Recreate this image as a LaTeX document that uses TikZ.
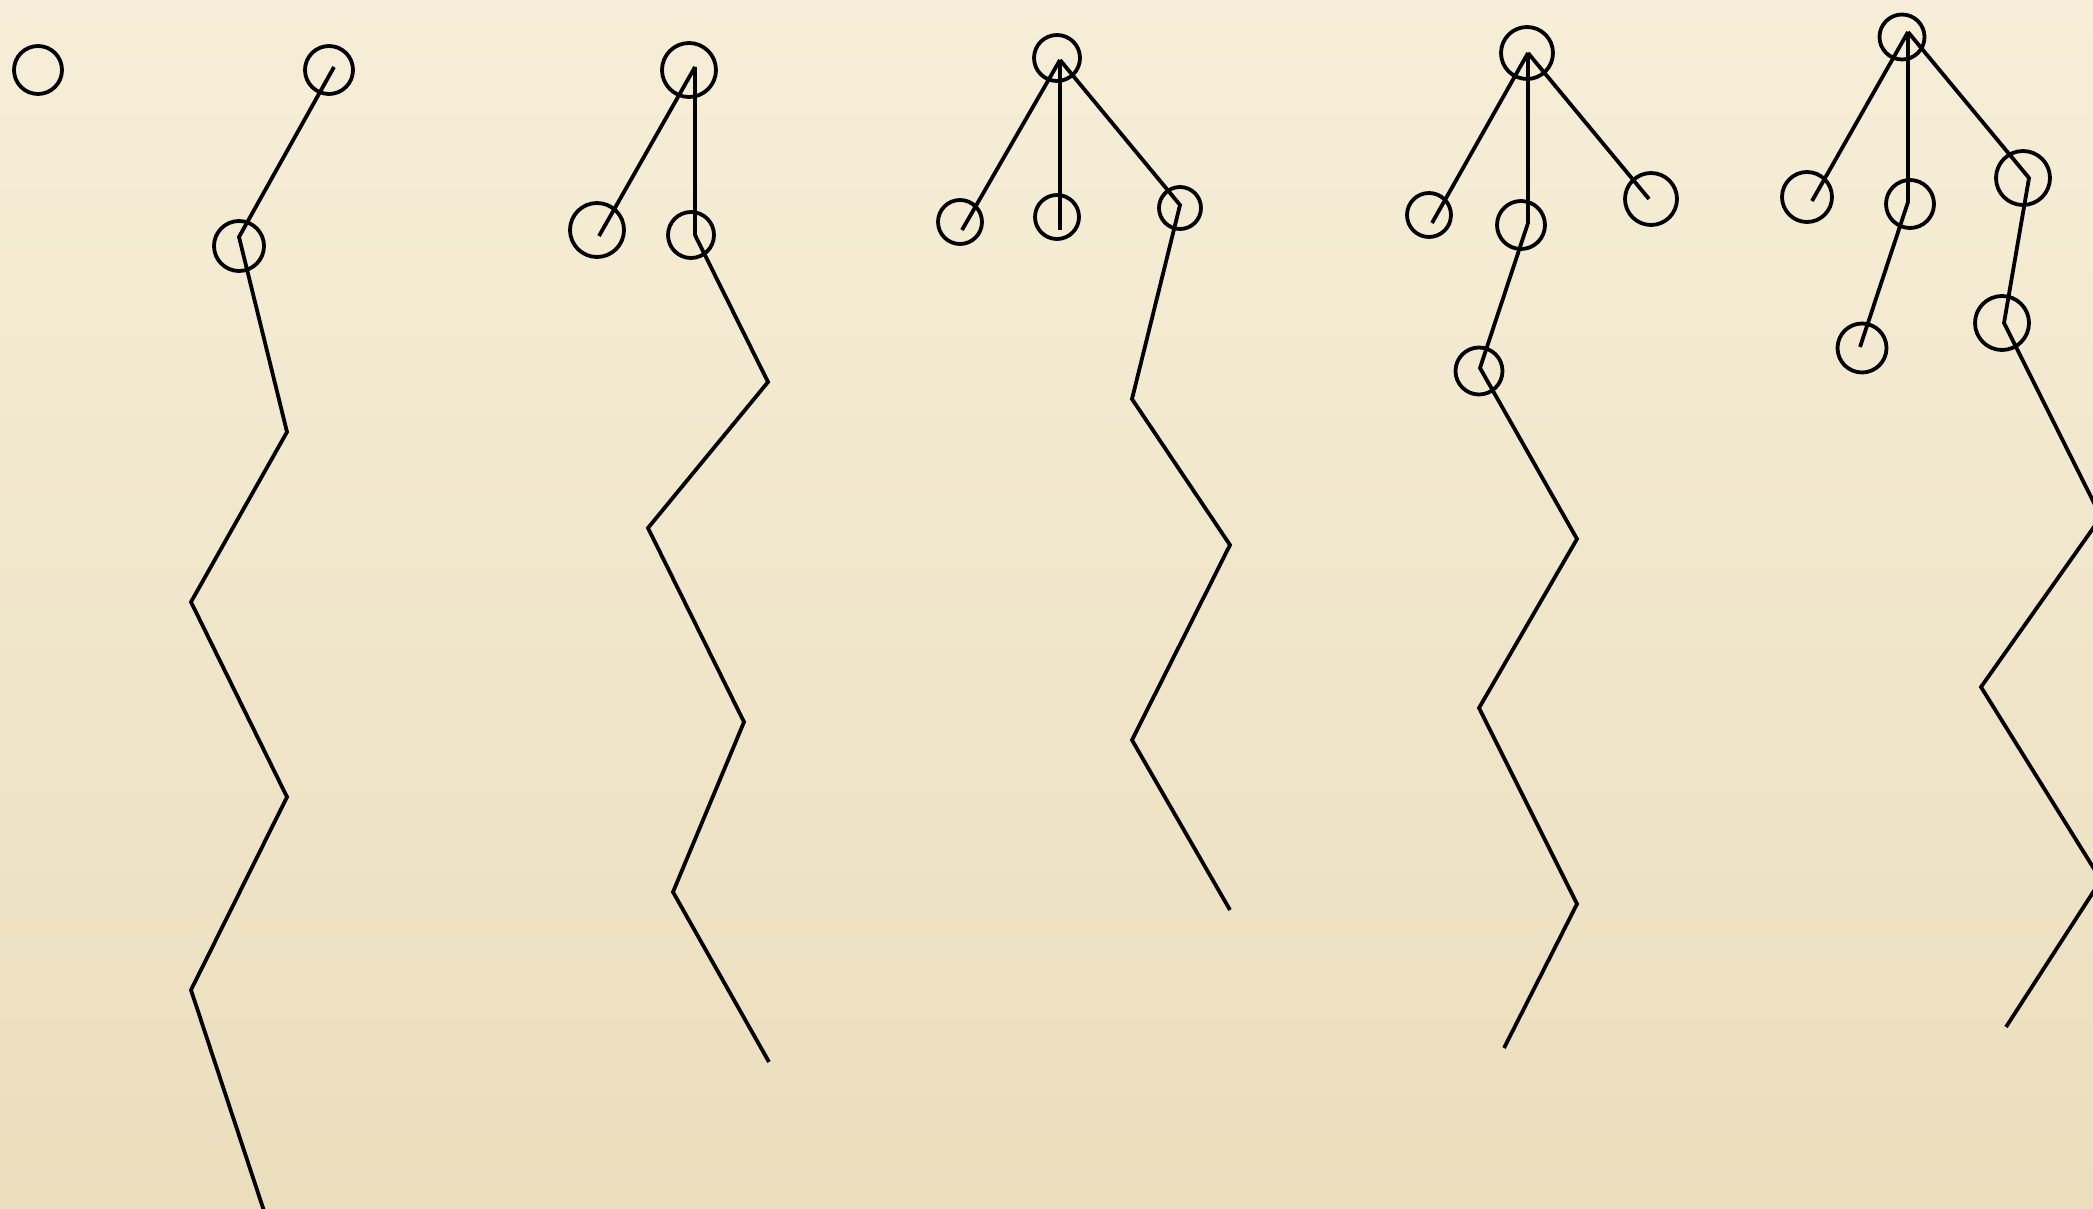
\documentclass[tikz,border=0pt]{standalone}
\usepackage{tikz}
\definecolor{bgtop}{RGB}{246,238,216}
\definecolor{bgbot}{RGB}{235,222,189}
\tikzset{
  ring/.style={circle, draw=black, line width=0.38mm, inner sep=0pt, minimum size=#1*0.2mm},
  stick/.style={draw=black, line width=0.38mm, line join=miter, line cap=butt}
}
\begin{document}
\begin{tikzpicture}[x=0.1mm, y=-0.1mm]
\useasboundingbox (0,0) rectangle (2093,1209);
\shade[top color=bgtop, bottom color=bgbot] (0,0) rectangle (2093,1209);
\clip (0,0) rectangle (2093,1209);

% ---------- tree 0 ----------
\node[ring=24] (c0) at (38,70) {};

% ---------- tree 1 ----------
\node[ring=24] (a1) at (329,70) {};
\node[ring=25] (a2) at (239,246) {};
\coordinate (a1v) at (334,67);
\coordinate (a2v) at (239,237);
\coordinate (a3) at (287,432);
\coordinate (a4) at (191,602);
\coordinate (a5) at (287,797);
\coordinate (a6) at (191,990);
\coordinate (a7) at (267,1220);
\draw[stick] (a1v) -- (a2v) -- (a3) -- (a4) -- (a5) -- (a6) -- (a7);

% ---------- tree 2 ----------
\node[ring=27] (b1) at (689,70) {};
\node[ring=27] (b2) at (597,230) {};
\node[ring=23] (b3) at (691,235) {};
\coordinate (b1v) at (695,67);
\coordinate (b2v) at (599,236);
\coordinate (b3v) at (695,235);
\coordinate (b4) at (768,382);
\coordinate (b5) at (648,528);
\coordinate (b6) at (744,722);
\coordinate (b7) at (673,892);
\coordinate (b8) at (769,1062);
\draw[stick] (b1v) -- (b2v);
\draw[stick] (b1v) -- (b3v) -- (b4) -- (b5) -- (b6) -- (b7) -- (b8);

% ---------- tree 3 ----------
\node[ring=23] (d1) at (1057,58) {};
\node[ring=22] (d2) at (960,222) {};
\node[ring=22] (d3) at (1057,217) {};
\node[ring=21] (d4) at (1180,208) {};
\coordinate (d1v) at (1060,60);
\coordinate (d2v) at (962,230);
\coordinate (d3v) at (1060,230);
\coordinate (d4v) at (1180,205);
\coordinate (d5) at (1132,399);
\coordinate (d6) at (1230,545);
\coordinate (d7) at (1132,740);
\coordinate (d8) at (1230,910);
\draw[stick] (d1v) -- (d2v);
\draw[stick] (d1v) -- (d3v);
\draw[stick] (d1v) -- (d4v) -- (d5) -- (d6) -- (d7) -- (d8);

% ---------- tree 4 ----------
\node[ring=26] (e1) at (1527,53) {};
\node[ring=22] (e2) at (1429,215) {};
\node[ring=24] (e3) at (1521,225) {};
\node[ring=26] (e4) at (1651,199) {};
\node[ring=23.5] (e5) at (1479,371) {};
\coordinate (e1v) at (1528,53);
\coordinate (e2v) at (1432,223);
\coordinate (e3v) at (1528,223);
\coordinate (e4v) at (1649,199);
\coordinate (e5v) at (1480,368);
\coordinate (e6) at (1577,539);
\coordinate (e7) at (1479,708);
\coordinate (e8) at (1577,904);
\coordinate (e9) at (1504,1048);
\draw[stick] (e1v) -- (e2v);
\draw[stick] (e1v) -- (e4v);
\draw[stick] (e1v) -- (e3v) -- (e5v) -- (e6) -- (e7) -- (e8) -- (e9);

% ---------- tree 5 ----------
\node[ring=22.5] (f1) at (1902,37) {};
\node[ring=25] (f2) at (1807,197) {};
\node[ring=24] (f3) at (1910,204) {};
\node[ring=27] (f4) at (2023,178) {};
\node[ring=24.5] (f5) at (1862,348) {};
\node[ring=27] (f6) at (2002,323) {};
\coordinate (f1v) at (1908,32);
\coordinate (f2v) at (1812,201);
\coordinate (f3v) at (1908,202);
\coordinate (f4v) at (2029,178);
\coordinate (f5v) at (1860,347);
\coordinate (f6v) at (2004,323);
\coordinate (f7) at (2101,517);
\coordinate (f8) at (1981,687);
\coordinate (f9) at (2101,880);
\coordinate (f10) at (2006,1027);
\draw[stick] (f1v) -- (f2v);
\draw[stick] (f1v) -- (f3v) -- (f5v);
\draw[stick] (f1v) -- (f4v) -- (f6v) -- (f7) -- (f8) -- (f9) -- (f10);
\end{tikzpicture}
\end{document}
